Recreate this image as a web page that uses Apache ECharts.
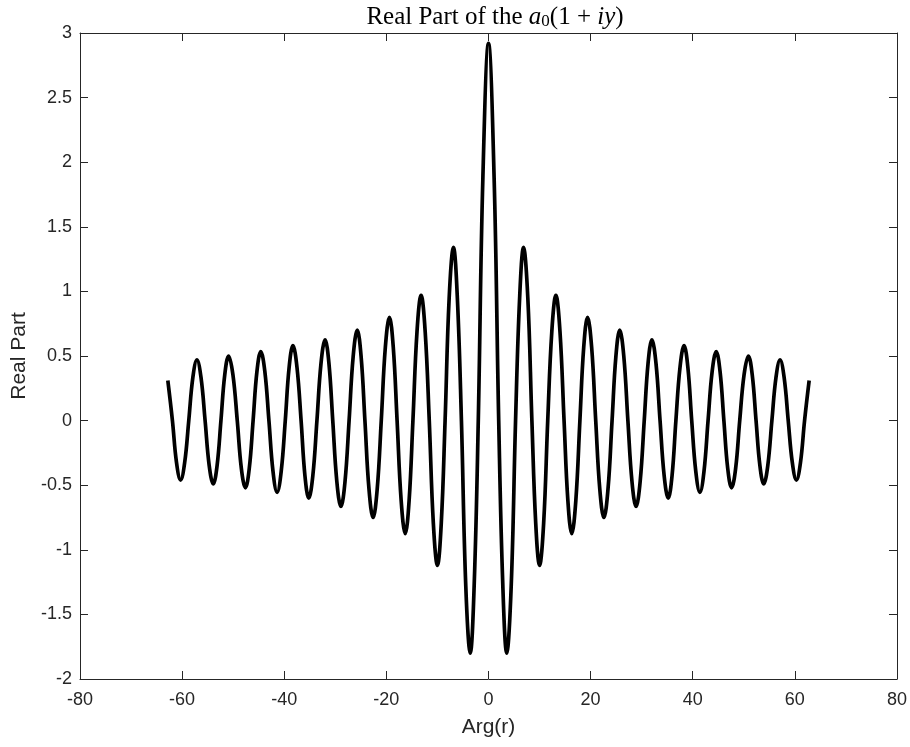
<!DOCTYPE html>
<html><head><meta charset="utf-8">
<script src="https://cdn.jsdelivr.net/npm/echarts@6/dist/echarts.min.js"></script>
<style>html,body{margin:0;padding:0;background:#fff}#c{width:910px;height:747px}</style>
</head><body><div id="c"></div>
<script>
var xTicks = [-80, -60, -40, -20, 0, 20, 40, 60, 80];
var yTicks = [-2, -1.5, -1, -0.5, 0, 0.5, 1, 1.5, 2, 2.5, 3];
// Arg(r) values (extrema, zero crossings and flank points)
var argX = [
 -62.8, -61.9, -61.1, -60.3, -59.5, -58.7, -57.9, -57.1, -56.3, -55.5,
 -54.7, -53.9, -53.15, -52.4, -51.65, -50.9, -50.05, -49.2, -48.4, -47.6,
 -46.85, -46.1, -45.35, -44.6, -43.8, -43.0, -42.2, -41.4, -40.6, -39.8,
 -39.05, -38.3, -37.5, -36.7, -35.95, -35.2, -34.4, -33.6, -32.8, -32.0,
 -31.25, -30.5, -29.7, -28.9, -28.1, -27.3, -26.5, -25.7, -24.95, -24.2,
 -23.4, -22.6, -21.8, -21.0, -20.2, -19.4, -18.65, -17.9, -17.1, -16.3,
 -15.55, -14.8, -14.0, -13.2, -12.4, -11.6, -10.8, -10.0, -9.25, -8.5,
 -7.7, -6.86, -6.1, -5.3, -4.45, -3.57, -2.8, -2.0, -1.1,
 0,
 1.1, 2.0, 2.8, 3.57, 4.45, 5.3, 6.1, 6.86, 7.7,
 8.5, 9.25, 10.0, 10.8, 11.6, 12.4, 13.2, 14.0, 14.8, 15.55,
 16.3, 17.1, 17.9, 18.65, 19.4, 20.2, 21.0, 21.8, 22.6, 23.4,
 24.2, 24.95, 25.7, 26.5, 27.3, 28.1, 28.9, 29.7, 30.5, 31.25,
 32.0, 32.8, 33.6, 34.4, 35.2, 35.95, 36.7, 37.5, 38.3, 39.05,
 39.8, 40.6, 41.4, 42.2, 43.0, 43.8, 44.6, 45.35, 46.1, 46.85,
 47.6, 48.4, 49.2, 50.05, 50.9, 51.65, 52.4, 53.15, 53.9, 54.7,
 55.5, 56.3, 57.1, 57.9, 58.7, 59.5, 60.3, 61.1, 61.9, 62.8
];
var realPart = [
 0.31, 0, -0.325, -0.46, -0.325, 0, 0.333, 0.47, 0.333, 0,
 -0.347, -0.49, -0.347, 0, 0.355, 0.50, 0.355, 0, -0.37, -0.52,
 -0.37, 0, 0.38, 0.535, 0.38, 0, -0.394, -0.555, -0.394, 0,
 0.41, 0.58, 0.41, 0, -0.426, -0.60, -0.426, 0, 0.444, 0.625,
 0.444, 0, -0.472, -0.665, -0.472, 0, 0.497, 0.70, 0.497, 0,
 -0.533, -0.75, -0.533, 0, 0.568, 0.80, 0.568, 0, -0.621, -0.875,
 -0.621, 0, 0.689, 0.97, 0.689, 0, -0.795, -1.12, -0.795, 0,
 0.951, 1.34, 0.951, 0, -1.278, -1.80, -1.27, 0, 1.88,
 2.92,
 1.88, 0, -1.27, -1.80, -1.278, 0, 0.951, 1.34, 0.951,
 0, -0.795, -1.12, -0.795, 0, 0.689, 0.97, 0.689, 0, -0.621,
 -0.875, -0.621, 0, 0.568, 0.80, 0.568, 0, -0.533, -0.75, -0.533,
 0, 0.497, 0.70, 0.497, 0, -0.472, -0.665, -0.472, 0, 0.444,
 0.625, 0.444, 0, -0.426, -0.60, -0.426, 0, 0.41, 0.58, 0.41,
 0, -0.394, -0.555, -0.394, 0, 0.38, 0.535, 0.38, 0, -0.37,
 -0.52, -0.37, 0, 0.355, 0.50, 0.355, 0, -0.347, -0.49, -0.347,
 0, 0.333, 0.47, 0.333, 0, -0.325, -0.46, -0.325, 0, 0.31
];
var data = argX.map(function(x, i){ return [x, realPart[i]]; });

var axisCol = '#262626';
var sans = '"Liberation Sans", Arial, Helvetica, sans-serif';
var serif = '"Liberation Serif", "Times New Roman", serif';
function xAx(pos, show){
  return {type:'value', position:pos, min:-80, max:80, interval:20,
    axisLine:{show:true, onZero:false, lineStyle:{color:axisCol, width:1}},
    axisTick:{show:true, inside:true, length:8, lineStyle:{color:axisCol}},
    axisLabel:{show:show, color:axisCol, fontSize:18, fontFamily:sans, margin:12},
    splitLine:{show:false},
    name: show ? 'Arg(r)' : '', nameLocation:'middle', nameGap:38,
    nameTextStyle:{color:axisCol, fontSize:21, fontFamily:sans}};
}
function yAx(pos, show){
  return {type:'value', position:pos, min:-2, max:3, interval:0.5,
    axisLine:{show:true, onZero:false, lineStyle:{color:axisCol, width:1}},
    axisTick:{show:true, inside:true, length:8, lineStyle:{color:axisCol}},
    axisLabel:{show:show, color:axisCol, fontSize:18, fontFamily:sans, margin:8},
    splitLine:{show:false},
    name: show ? 'Real Part' : '', nameLocation:'middle', nameGap:46,
    nameTextStyle:{color:axisCol, fontSize:21, fontFamily:sans}};
}
var chart = echarts.init(document.getElementById('c'));
chart.setOption({
  animation:false,
  backgroundColor:'#fff',
  title:{
    left:490, textAlign:'center', top:-3,
    text:'{n|Real Part of the }{i|a}{s|0}{n|(1 + }{i|iy}{n|)}',
    textStyle:{
      fontWeight:'normal',
      rich:{
        n:{fontFamily:serif, fontSize:25, fontWeight:'normal', color:'#000', lineHeight:30},
        i:{fontFamily:serif, fontStyle:'italic', fontSize:25, fontWeight:'normal', color:'#000', lineHeight:30},
        s:{fontFamily:serif, fontSize:17, fontWeight:'normal', color:'#000', lineHeight:30, padding:[9,0,0,0]}
      }
    }
  },
  grid:{left:80, right:11, top:33, bottom:68},
  xAxis:[xAx('bottom', true), xAx('top', false)],
  yAxis:[yAx('left', true), yAx('right', false)],
  series:[{
    type:'line', xAxisIndex:0, yAxisIndex:0, data:data,
    smooth:0.4, showSymbol:false, symbol:'none',
    lineStyle:{color:'#000', width:3.7}
  }]
});
</script></body></html>
